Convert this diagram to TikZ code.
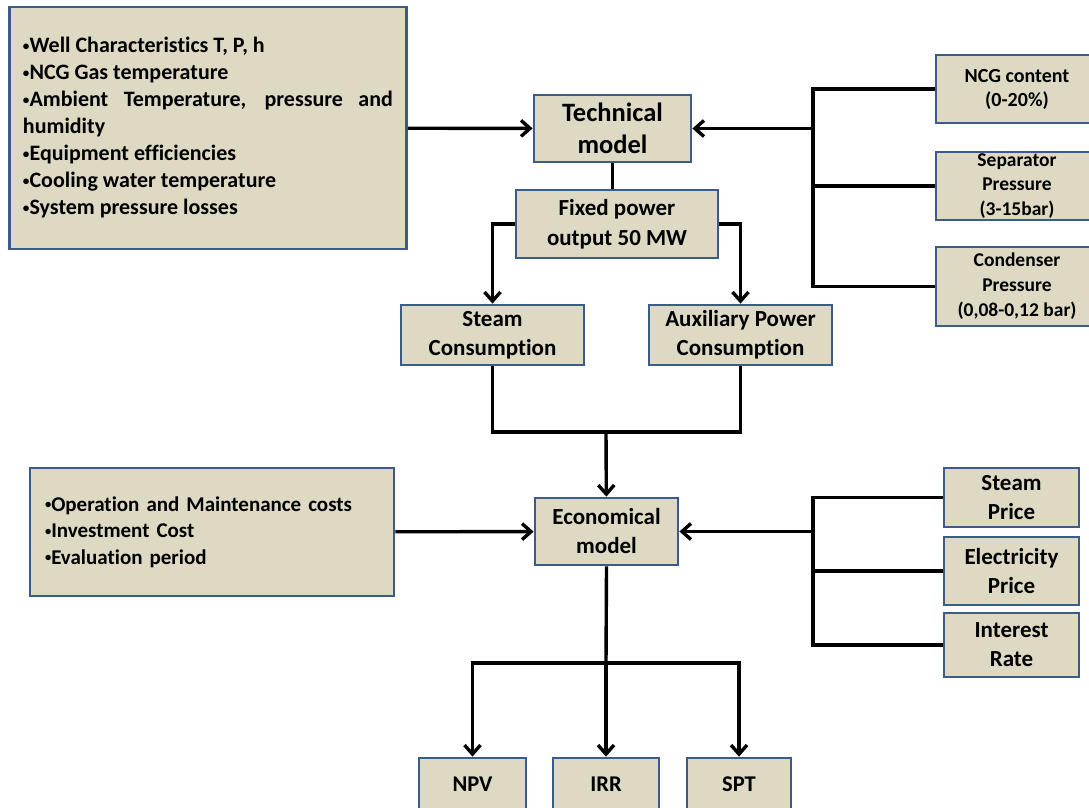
\documentclass[tikz,border=0pt]{standalone}
\usepackage{fontspec}
\setmainfont{Carlito}[Ligatures=NoCommon]
\usetikzlibrary{arrows.meta}
\definecolor{boxfill}{RGB}{221,217,195}
\definecolor{boxline}{RGB}{59,92,138}
\newcommand\fsz[2]{\fontsize{#1}{#2}\selectfont}
\newcommand\bul{\raisebox{.12em}{\scalebox{.6}{•}}}
\begin{document}
\begin{tikzpicture}[x=1pt,y=-1pt,
    box/.style={draw=boxline,fill=boxfill,line width=2.8pt,inner sep=1pt,align=center},
    link/.style={line width=3.4pt},
    feed/.style={link,-{Straight Barb[length=9pt,width=16pt]}}]
  \useasboundingbox (0,0) rectangle (1089,807);
  % inputs of the technical model
  \node(inputs)[box,text width=370pt,inner xsep=13.5pt,minimum height=242pt,align=justify,font=\bfseries\fsz{22}{27}] at (208,128){%
    \bul Well Characteristics T, P, h\\
    \bul NCG Gas temperature\\
    \bul Ambient Temperature, pressure and\linebreak humidity\\
    \bul Equipment efficiencies\\
    \bul Cooling water temperature\\
    \bul System pressure losses};
  \node(tech)[box,minimum width=157pt,minimum height=67pt,font=\bfseries\fsz{26.5}{32}] at (612.5,128.5){Technical\\model};
  \node(fixed)[box,minimum width=202pt,minimum height=68pt,font=\bfseries\fsz{23}{30}] at (617,224){Fixed power\\output 50 MW};
  \node(steam)[box,minimum width=183pt,minimum height=60pt,font=\bfseries\fsz{23}{29}] at (492.5,335){Steam\\Consumption};
  \node(aux)[box,minimum width=183pt,minimum height=60pt,font=\bfseries\fsz{23}{29}] at (740.5,335){Auxiliary Power\\Consumption};
  % parameters on the right
  \node(ncg)[box,minimum width=162pt,minimum height=68pt,font=\bfseries\fsz{20}{24}] at (1017,89){NCG content\\(0-20\%)};
  \node(sep)[box,minimum width=162pt,minimum height=68pt,inner ysep=0pt,font=\bfseries\fsz{19.5}{24.5}] at (1017,186){Separator\\Pressure\\(3-15bar)};
  \node(cond)[box,minimum width=162pt,minimum height=79pt,font=\bfseries\fsz{19.5}{25}] at (1017,286.5){Condenser\\Pressure\\(0,08-0,12 bar)};
  % economical part
  \node(ops)[box,text width=334pt,inner xsep=15pt,minimum height=128pt,align=left,font=\bfseries\fsz{21}{26.5}] at (212,532){%
    \bul Operation and Maintenance costs\\
    \bul Investment Cost\\
    \bul Evaluation period};
  \node(econ)[box,minimum width=143pt,minimum height=67pt,font=\bfseries\fsz{23}{29}] at (606.5,531.5){Economical\\model};
  \node(sprice)[box,minimum width=135pt,minimum height=59pt,font=\bfseries\fsz{23}{29}] at (1011.5,497.5){Steam\\Price};
  \node(eprice)[box,minimum width=135pt,minimum height=68pt,font=\bfseries\fsz{23}{29}] at (1011.5,571){Electricity\\Price};
  \node(rate)[box,minimum width=135pt,minimum height=64pt,font=\bfseries\fsz{23}{29}] at (1011.5,645){Interest\\Rate};
  \node(npv)[box,minimum width=107pt,minimum height=52pt,font=\bfseries\fsz{22.5}{29}] at (472.5,784){NPV};
  \node(irr)[box,minimum width=106pt,minimum height=52pt,font=\bfseries\fsz{22.5}{29}] at (606,784){IRR};
  \node(spt)[box,minimum width=104pt,minimum height=52pt,font=\bfseries\fsz{22.5}{29}] at (739,784){SPT};
  % junctions
  \coordinate(tbus) at (813,128.5);
  \coordinate(join) at (606,432);
  \coordinate(ebus) at (813,531.5);
  \coordinate(obus) at (606,663);
  % connectors
  \draw[feed] (inputs) -- (tech);
  \draw[feed] (tbus) -- (tech);
  \draw[link] (ncg.west) -| (tbus) |- (cond.west);
  \draw[link] (tbus |- sep.west) -- (sep.west);
  \draw[link] (tech.south) -- (tech.south |- fixed.north);
  \draw[feed] (fixed.west) -| (steam.north);
  \draw[feed] (fixed.east) -| (aux.north);
  \draw[link] (steam.south) |- (join) -| (aux.south);
  \draw[feed] (join) -- (econ);
  \draw[feed] (ops) -- (econ);
  \draw[feed] (ebus) -- (econ);
  \draw[link] (sprice.west) -| (ebus) |- (rate.west);
  \draw[link] (ebus |- eprice.west) -- (eprice.west);
  \draw[link] (econ.south) -- (obus);
  \draw[feed] (obus) -- (irr);
  \draw[feed] (obus) -| (npv.north);
  \draw[feed] (obus) -| (spt.north);
\end{tikzpicture}
\end{document}
